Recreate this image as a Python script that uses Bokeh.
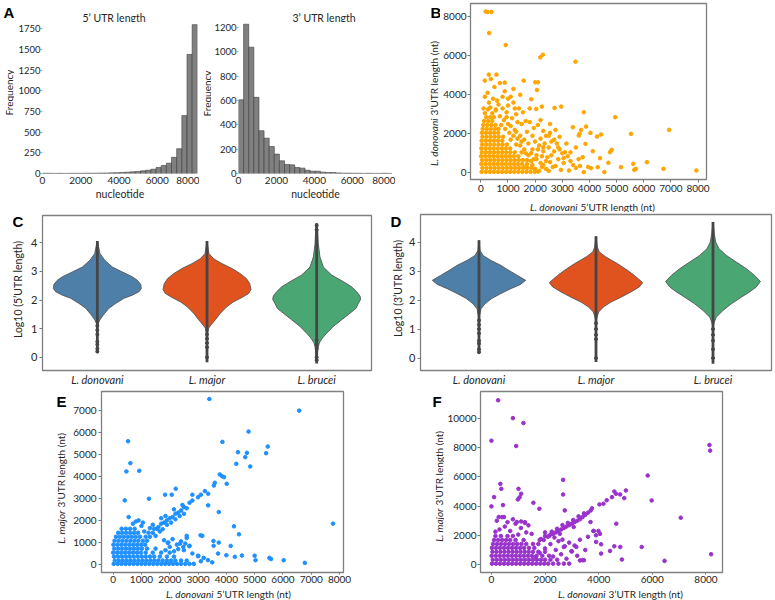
import math
from bokeh.plotting import figure
from bokeh.layouts import column, row
from bokeh.models import Label
from bokeh.embed import file_html
from bokeh.resources import INLINE

FONT = "Lato"
LETTER_FONT = "Liberation Sans"
TXT = "#262626"

# ---------------- data: histograms (panel A) ----------------
bin_width = 269.7
utr5_counts = [3, 2, 1, 2, 1, 2, 2, 2, 3, 3, 4, 5, 6, 8, 10, 13, 16, 20, 25, 32,
               40, 52, 73, 97, 125, 195, 300, 700, 1440, 1800]
utr3_counts = [605, 1225, 1036, 625, 351, 290, 222, 159, 104, 74, 71, 49, 44, 27, 19,
               19, 11, 8, 8, 5, 3, 3, 2, 2, 1, 2, 1, 1, 2, 1]
hist_x_ticks = [0, 2000, 4000, 6000, 8000]
utr5_y_ticks = [0, 250, 500, 750, 1000, 1250, 1500, 1750]
utr3_y_ticks = [0, 200, 400, 600, 800, 1000, 1200]

# ---------------- data: scatter B (5'UTR vs 3'UTR, L. donovani) ----------------
b_core = [(30,50),(180,50),(330,50),(480,50),(630,50),(780,50),(930,50),(1080,50),(1230,50),(1380,50),(1530,50),(1680,50),(1830,50),(1980,50),(2100,60),
          (60,250),(210,250),(360,250),(510,250),(660,250),(810,250),(960,250),(1110,250),(1260,250),(1410,250),(1560,250),(1710,250),(1860,250),
          (20,450),(170,450),(320,450),(470,450),(620,450),(770,450),(920,450),(1070,450),(1220,450),(1370,450),(1520,450),(1700,450),
          (50,650),(200,650),(350,650),(500,650),(650,650),(800,650),(950,650),(1100,650),(1250,650),(1400,650),(1550,650),
          (10,850),(160,850),(310,850),(460,850),(610,850),(760,850),(910,850),(1060,850),(1210,850),(1380,850),
          (40,1050),(190,1050),(340,1050),(490,1050),(640,1050),(790,1050),(940,1050),(1090,1050),(1250,1050),
          (20,1250),(170,1250),(320,1250),(470,1250),(620,1250),(770,1250),(920,1250),(1080,1250),
          (50,1450),(200,1450),(350,1450),(500,1450),(650,1450),(800,1450),(960,1450),
          (30,1650),(180,1650),(330,1650),(480,1650),(630,1650),(790,1650),
          (60,1850),(210,1850),(360,1850),(510,1850),(660,1850),(820,1850),
          (40,2050),(190,2050),(340,2050),(490,2050),(640,2050),
          (70,2250),(220,2250),(370,2250),(520,2250),(650,2250),
          (90,2450),(240,2450),(390,2450),(540,2450),
          (120,2650),(270,2650),(420,2650),
          (200,2850),(350,2850),(480,2850),(150,3050),(420,3050),(260,3250),(550,3250)]
b_mid = [(1100,3900),(1200,3600),(1400,3300),(1000,3450),(1550,3100),(1650,2650),(1800,2600),(1950,2300),(2100,2450),(2200,2700),
         (2300,2150),(2400,1900),(2550,2050),(2700,1700),(2800,1500),(2900,1200),(3000,1000),(3100,1050),(3200,850),(3300,600),
         (3400,400),(3500,250),(3050,500),(2850,700),(2600,900),(2500,1300),(2350,1500),(2200,1750),(2650,300),(2950,150),
         (3250,120),(3600,700),(3650,350),(3950,300),(3750,800),(1800,3300),(1300,3000),(1500,2500),(1700,2100),(1900,1900),
         (2000,1600),(2150,1400),(2300,1100),(2450,800),(2550,550),(2750,350),(2400,200),(2200,500),(2050,900),(1900,1200),
         (1750,1500),(3300,1050),(3500,1300),(3150,1500),(2900,1850),(2750,2200),(2550,2500),(1450,4000),(1200,4300),(700,4600),
         (500,4400),(450,3800),(650,3500),(800,3900),(300,3600),(250,4100),(150,3900),(100,3300),(550,3200),(950,3100),
         (1150,2800),(1350,2600),(1000,2500),(1250,2200),(1450,1900),(1600,1700),(1750,900),(1650,300),(1850,600),(2000,200),
         (2150,100),(2300,400),(2500,100),(1600,1200),(1950,700),(2250,850),(1100,1700),(1300,1450),(1500,1050),(1700,650),
         (750,2450),(900,2250),(1050,2050),(1200,1900),(1350,1750),(850,2700),(700,2900),(950,2850),(1100,2400),(1300,2100),
         (1450,1400),(1650,1000),(1850,1000),(2050,700),(2250,300),(2400,600),(1900,400),(2100,1200),(2300,1300),(1500,1600),
         (800,3300),(600,3700),(350,3350),(1000,3800),(1250,3300),(2600,1600),(2700,1100),(2500,1900),(2850,1300),(3050,750)]
b_out = [(180,8270),(250,8240),(390,8250),(306,7165),(917,6551),(2189,5920),(2287,6056),(3486,5698),
         (147,4725),(294,5033),(575,5033),(367,4810),(880,4623),(1578,4725),(2006,4640),(2104,4640),(2067,4248),(880,4180),
         (1859,3770),(3791,3105),(2960,3395),(2715,3327),(2250,3395),(2042,3275),(4950,2849),(6934,2200),(3388,2337),(3877,2371),
         (3693,2200),(3632,1996),(4036,2047),(4280,1860),(4427,1962),(5528,1996),(3608,1911),(3853,1484),(4122,1109),(4819,1177),
         (4758,1058),(4391,751),(4697,512),(5161,290),(5614,461),(5712,205),(5650,154),(6115,546),(6727,205),(7937,119),
         (4550,34),(3791,34),(4060,239),(4305,290)]

# ---------------- data: violins (panels C, D) ----------------
species = ["L. donovani", "L. major", "L. brucei"]
violin_colors = ["#4d7fa8", "#e0531f", "#4aa672"]
# profile: log10 value, half-width (category units)
c_don_v = [4.06,3.85,3.62,3.39,3.15,2.98,2.81,2.69,2.55,2.40,2.29,2.17,2.06,1.88,1.71,1.48,1.31,1.19,1.10]
c_don_w = [0,.012,.024,.067,.137,.228,.319,.365,.395,.401,.380,.319,.243,.167,.106,.055,.024,.009,0]
c_maj_v = [4.06,3.62,3.44,3.27,3.10,2.92,2.75,2.58,2.37,2.23,2.09,1.94,1.77,1.54,1.31,1.13,1.02,0.90,0.80]
c_maj_w = [0,.018,.061,.137,.228,.304,.359,.389,.401,.380,.319,.243,.182,.122,.076,.036,.015,.009,0]
c_bru_v = [4.68,4.43,3.96,3.50,3.15,2.87,2.64,2.46,2.29,2.14,2.02,1.88,1.71,1.54,1.31,1.08,0.84,0.67,0.50,0.32,0.03,-0.15]
c_bru_w = [0,.009,.015,.030,.061,.137,.243,.319,.365,.395,.401,.380,.359,.304,.228,.152,.091,.052,.024,.012,.006,0]
c_min = [0.15, -0.17, -0.22]
c_max = [4.06, 4.06, 4.68]
c_dots = [[1.1,0.95,0.8,0.55,0.45,0.3,0.2], [0.8,0.65,0.5,0.35,0.0], [0.6,0.45,0.3,0.0,-0.1,4.45,4.6]]

d_don_v = [4.06,3.71,3.54,3.37,3.20,3.02,2.85,2.68,2.54,2.39,2.22,2.05,1.87,1.70,1.53,1.40]
d_don_w = [0,.009,.034,.100,.185,.256,.328,.399,.356,.271,.185,.108,.051,.017,.009,0]
d_maj_v = [4.20,3.83,3.66,3.48,3.25,3.02,2.85,2.68,2.60,2.45,2.28,2.10,1.93,1.76,1.59,1.41,1.25]
d_maj_w = [0,.011,.028,.085,.185,.271,.328,.376,.399,.370,.299,.214,.128,.063,.023,.009,0]
d_bru_v = [4.69,4.29,4.00,3.77,3.54,3.31,3.08,2.85,2.64,2.45,2.28,2.10,1.87,1.64,1.41,1.24,1.05]
d_bru_w = [0,.011,.023,.051,.114,.199,.285,.356,.405,.370,.313,.242,.157,.085,.028,.011,0]
d_min = [0.17, -0.14, -0.2]
d_max = [4.06, 4.20, 4.69]
d_dots = [[1.3,1.15,1.0,0.85,0.6,0.5,0.3,0.2], [1.2,1.0,0.8,0.65,0.0], [1.0,0.8,0.6,0.3,0.0]]

# ---------------- data: scatter E (L. donovani 5'UTR vs L. major 3'UTR) ----------------
e_core = [(20,30),(160,30),(300,30),(440,30),(580,30),(720,30),(860,30),(1000,30),(1140,30),(1280,30),(1420,30),(1560,30),(1700,30),(1840,30),(1980,30),(2120,30),(2260,30),(2400,30),(2550,30),(2700,30),(2850,30),
          (60,180),(200,180),(340,180),(480,180),(620,180),(760,180),(900,180),(1040,180),(1180,180),(1320,180),(1460,180),(1600,180),(1750,180),(1900,180),(2050,180),(2200,180),(2400,180),(2600,180),
          (30,360),(170,360),(310,360),(450,360),(590,360),(730,360),(870,360),(1010,360),(1150,360),(1300,360),(1450,360),(1650,360),(1900,360),(2150,360),
          (0,540),(140,540),(280,540),(420,540),(560,540),(700,540),(840,540),(980,540),(1150,540),(1400,540),(1700,540),(2000,540),
          (40,720),(180,720),(320,720),(460,720),(600,720),(740,720),(880,720),(1020,720),(1200,720),(1500,720),
          (10,900),(150,900),(290,900),(430,900),(570,900),(710,900),(850,900),(990,900),(1130,900),
          (50,1080),(190,1080),(330,1080),(470,1080),(610,1080),(750,1080),(890,1080),(1050,1080),(1200,1080),
          (100,1260),(240,1260),(380,1260),(520,1260),(660,1260),(800,1260),(950,1260),(1150,1260),(1300,1260),
          (180,1440),(320,1440),(460,1440),(600,1440),(740,1440),(880,1440),(1250,1440),(1400,1440),
          (300,1620),(450,1620),(600,1620),(760,1620),(1450,1620),(1550,1620)]
e_band = [(1600,1700),(1700,1850),(1800,1900),(1900,2000),(2000,2100),(2100,2150),(2200,2300),(2300,2350),(2400,2450),(2500,2600),
          (1500,1300),(1650,1500),(1750,1600),(1900,1800),(2050,1900),(2200,2050),(2350,2200),(2500,2300),(2600,2550),(2700,2800),
          (2800,2900),(2450,2700),(2150,2500),(1850,2200),(1700,2100),(1400,1800),(1300,1650),
          (1800,1100),(1950,1000),(2100,1150),(2250,900),(2400,1050),(2550,950),(2700,850),(2600,1200),(2000,800),(2300,700),
          (1850,650),(2150,600),(2500,650),(2800,500),(3000,400),(3200,300),(3100,150),(3350,200),(3500,100),
          (550,2150),(900,2000),(1050,1900),(700,1850),(1100,1500),(1000,1750),(800,1950)]
e_out = [(3400,7500),(6575,6973),(4785,6024),(527,5587),(3861,5557),(4411,5090),(4727,5060),(4668,4865),(5464,5346),(5405,5045),
         (609,4593),(468,4217),(924,4247),(4352,4563),(4844,4443),(3767,4081),(3919,3961),(3850,4000),(4013,3660),(3592,3705),
         (3560,3580),(3732,2379),(2211,3434),(2800,3163),(410,2907),(1264,2982),(3358,3208),(3241,3328),(1837,3163),(2071,3163),
         (3100,3163),(3000,3050),(3358,2681),(7769,1852),(4270,1732),(4446,1370),(3733,994),(3545,1069),(3550,850),(4153,843),
         (4551,407),(5000,400),(5522,301),(5580,250),(6025,196),(6774,75),(5031,196),(4001,422),(4300,350),(3709,497),
         (3007,377),(3089,1325),(3150,1300),(2691,828),(2363,949),(2480,800),(1930,979),(2600,1300)]

# ---------------- data: scatter F (L. donovani 3'UTR vs L. major 3'UTR) ----------------
f_core = [(20,60),(170,60),(320,60),(470,60),(620,60),(770,60),(920,60),(1070,60),(1220,60),(1370,60),(1520,60),(1670,60),(1820,60),(1970,60),(2120,60),(2300,60),(2500,60),(2700,60),(2900,60),
          (50,330),(200,330),(350,330),(500,330),(650,330),(800,330),(950,330),(1100,330),(1250,330),(1400,330),(1550,330),(1700,330),(1850,330),(2000,330),(2200,330),(2450,330),
          (10,600),(160,600),(310,600),(460,600),(610,600),(760,600),(910,600),(1060,600),(1210,600),(1360,600),(1510,600),(1680,600),(1900,600),(2150,600),
          (40,870),(190,870),(340,870),(490,870),(640,870),(790,870),(940,870),(1090,870),(1240,870),(1390,870),(1550,870),(1750,870),(2000,870),
          (20,1140),(170,1140),(320,1140),(470,1140),(620,1140),(770,1140),(920,1140),(1070,1140),(1220,1140),(1400,1140),(1600,1140),
          (60,1410),(210,1410),(360,1410),(510,1410),(660,1410),(810,1410),(960,1410),(1120,1410),(1300,1410),(1550,1410),(1750,1410),
          (100,1680),(250,1680),(400,1680),(550,1680),(700,1680),(900,1680),(1200,1680),(1800,1680),(1950,1680),
          (150,1950),(350,1950),(600,1950),(800,1950),(2000,1950),(2150,1950)]
f_band = [(2100,1900),(2200,2050),(2300,2100),(2400,2200),(2500,2300),(2600,2400),(2700,2500),(2800,2600),(2900,2700),(3000,2800),
          (3100,2900),(3200,3000),(3300,3100),(3400,3250),(3500,3400),(3600,3550),(3700,3700),(3750,3850),(2250,2250),(2450,2450),
          (2650,2700),(2850,2850),(3050,3050),(3250,3300),(3450,3500),(2000,2200),(1850,1750),(2350,1850),(2550,2100),
          (1650,500),(1800,800),(2000,1100),(2200,1400),(2400,1000),(2600,700),(2800,400),(3000,900),(3200,600),(3400,300),
          (2300,550),(2700,1200),(2900,1500),(3100,1300),(3300,1700),(2500,1600),(3600,1900),(3500,1000),(3800,2300),(3900,2000),
          (300,2400),(500,2600),(700,2300),(900,2800),(1100,2500),(200,3000),(400,3250),(600,2900),(1300,2200),(1000,2050),
          (150,2250),(800,3100),(1250,2900),(1500,2100)]
f_out = [(250,11250),(801,10028),(1195,9687),(0,8482),(924,8118),(8131,8186),(8156,7800),(5827,6094),(333,5526),(370,5185),
         (2673,5799),(1010,5185),(1109,4844),(985,4457),(1050,4600),(99,4616),(0,3980),(431,4070),(1565,4230),(1786,3820),
         (5975,4389),(2673,4798),(4583,5003),(4645,4844),(4800,4800),(4497,4616),(5014,5071),(4953,4548),(4300,4400),(4029,4116),
         (4177,4162),(7059,3206),(2735,3707),(271,3252),(468,3252),(949,2911),(1110,2950),(1250,2850),(1380,2683),(3068,2570),
         (3696,2911),(3819,2297),(3992,2297),(4050,2100),(4657,2797),(3905,1546),(4090,1387),(4583,1251),(4805,1205),(4090,750),
         (4423,932),(5605,1205),(8193,705),(6456,250),(4866,341),(3450,296),(3300,280),(2981,910),(3166,1205),(2649,1705),(2735,1250)]

b_ticks_x = [0, 1000, 2000, 3000, 4000, 5000, 6000, 7000, 8000]
b_ticks_y = [0, 2000, 4000, 6000, 8000]
e_ticks_x = [0, 1000, 2000, 3000, 4000, 5000, 6000, 7000, 8000]
e_ticks_y = [0, 1000, 2000, 3000, 4000, 5000, 6000, 7000]
f_ticks_x = [0, 2000, 4000, 6000, 8000]
f_ticks_y = [0, 2000, 4000, 6000, 8000, 10000]
violin_ticks_y = [0, 1, 2, 3, 4]


def make_fig(w, h, xr, yr, bl, br, bt, bb):
    p = figure(width=w, height=h, x_range=xr, y_range=yr, output_backend="svg",
               toolbar_location=None, min_border_left=bl, min_border_right=br,
               min_border_top=bt, min_border_bottom=bb, frame_align=False)
    p.xgrid.visible = False
    p.ygrid.visible = False
    p.background_fill_color = "white"
    p.border_fill_color = "white"
    for ax in (p.xaxis[0], p.yaxis[0]):
        ax.axis_line_color = None
        ax.minor_tick_line_color = None
        ax.major_tick_in = 0
        ax.major_tick_out = 3
        ax.major_tick_line_color = "#777777"
        ax.major_label_text_font = FONT
        ax.major_label_text_font_size = "10px"
        ax.major_label_text_color = TXT
        ax.axis_label_text_font = FONT
        ax.axis_label_text_font_size = "10px"
        ax.axis_label_text_font_style = "normal"
        ax.axis_label_text_color = TXT
        ax.major_label_standoff = 2
    return p


def framed(p):
    p.outline_line_color = "#808080"
    p.outline_line_width = 1.3


class TextCanvas:
    """A small figure whose frame is a plain pixel canvas, holding texts that sit outside plot frames."""
    def __init__(self, page_x, page_y, w, h):
        self.x0, self.y0, self.h = page_x, page_y, h
        t = figure(width=w, height=h, x_range=(0, w), y_range=(0, h), output_backend="svg",
                   toolbar_location=None, x_axis_location=None, y_axis_location=None,
                   min_border_left=0, min_border_right=0, min_border_top=0, min_border_bottom=0,
                   frame_align=False)
        t.outline_line_color = None
        t.background_fill_color = "white"
        t.border_fill_color = "white"
        for g in t.grid:
            g.visible = False
        self.p = t

    def text(self, px, py, txt, **kw):
        self.p.add_layout(Label(x=px - self.x0, y=self.y0 + self.h - py, text=txt, **kw))

    def letter(self, txt, px, py_center):
        self.text(px, py_center, txt, text_font=LETTER_FONT, text_font_style="bold", text_font_size="15px",
                  text_color="black", text_baseline="middle", text_align="left")

    def plain(self, px, py, txt, angle=0.0, align="left", size="10.5px"):
        self.text(px, py, txt, angle=angle, text_align=align, text_baseline="middle",
                  text_font=FONT, text_font_size=size, text_color=TXT)

    def mixed(self, px, py, ital, rest, vertical):
        common = dict(text_font=FONT, text_font_size="10px", text_color=TXT, text_baseline="middle")
        if vertical:
            self.text(px, py, ital, angle=math.pi / 2, text_align="right", text_font_style="italic", **common)
            self.text(px, py - 3, rest, angle=math.pi / 2, text_align="left", **common)
        else:
            self.text(px, py, ital, text_align="right", text_font_style="italic", **common)
            self.text(px + 3, py, rest, text_align="left", **common)


def hist_fig(w, counts, xr_end, yr_end, yticks, bl, br):
    p = make_fig(w, 190, (0, xr_end), (0, yr_end), bl, br, 0, 39)
    lefts = [i * bin_width for i in range(len(counts))]
    rights = [(i + 1) * bin_width for i in range(len(counts))]
    p.quad(left=lefts, right=rights, bottom=0, top=counts, fill_color="#808080",
           line_color="#3c3c3c", line_width=0.6)
    p.outline_line_color = None
    p.xaxis.ticker = hist_x_ticks
    p.yaxis.ticker = yticks
    p.xaxis.major_tick_out = 0
    p.xaxis.major_label_standoff = 3
    p.yaxis.major_tick_out = 2
    p.yaxis.major_label_standoff = 0
    p.yaxis.major_tick_line_color = "#aaaaaa"
    p.yaxis.major_label_text_font_size = "9.5px"
    p.xaxis.major_label_text_font_size = "10px"
    p.xaxis.axis_label = "nucleotide"
    p.xaxis.axis_label_standoff = 1
    p.xaxis.axis_label_text_font_size = "10.5px"
    return p


# ---- Row 1: A (two histograms) and B ----
TA1 = TextCanvas(0, 0, 199, 22)
TA1.letter("A", 3, 12)
TA1.plain(82, 17, "5\u2019 UTR length")
TF1 = TextCanvas(0, 22, 14, 190)
TF1.plain(8, 92, "Frequency", angle=math.pi / 2, align="center", size="10px")
A1 = hist_fig(185, utr5_counts, 8100, 1826, utr5_y_ticks, 28, 2)

TA2 = TextCanvas(199, 0, 196, 22)
TA2.plain(292, 17, "3\u2019 UTR length")
TF2 = TextCanvas(199, 22, 12, 190)
TF2.plain(206, 93, "Frequency", angle=math.pi / 2, align="center", size="10px")
A2 = hist_fig(184, utr3_counts, 8120, 1239, utr3_y_ticks, 25, 3)

TB = TextCanvas(395, 0, 45, 212)
TB.letter("B", 430, 11.5)
TB.mixed(433, 118, "L. donovani", "3\u2019UTR length (nt)", True)
B = make_fig(335, 198, (-380, 8310), (-343, 8680), 29, 69, 3, 19)
framed(B)
bpts = b_core + b_mid + b_out
B.scatter([q[0] for q in bpts], [q[1] for q in bpts], size=3.6, color="#ffa500")
B.xaxis.ticker = b_ticks_x
B.yaxis.ticker = b_ticks_y
B.yaxis.major_label_standoff = 1
TBx = TextCanvas(440, 198, 335, 14)
TBx.mixed(577, 206, "L. donovani", "5\u2019UTR length (nt)", False)


def violin_fig(w, bl, br, bt, bb, yr, profiles, mins, maxs, dots):
    p = make_fig(w, 176, (0, 3), yr, bl, br, bt, bb)
    framed(p)
    for i, (vs, ws) in enumerate(profiles):
        c = i + 0.5
        xs = [c - wv for wv in ws] + [c + wv for wv in reversed(ws)]
        ys = list(vs) + list(reversed(vs))
        p.patch(xs, ys, fill_color=violin_colors[i], line_color="#555555", line_width=0.9)
    centers = [0.5, 1.5, 2.5]
    p.segment(x0=centers, y0=mins, x1=centers, y1=maxs, line_width=2.8, line_color="#454545")
    dx, dy = [], []
    for i, dl in enumerate(dots):
        for d in dl:
            dx.append(centers[i])
            dy.append(d)
    p.scatter(dx, dy, size=3, color="#454545")
    p.xaxis.ticker = centers
    p.xaxis.major_label_overrides = {0.5: species[0], 1.5: species[1], 2.5: species[2]}
    p.xaxis.major_tick_out = 0
    p.xaxis.major_label_text_font_style = "italic"
    p.xaxis.major_label_text_font_size = "11px"
    p.xaxis.major_label_standoff = 2
    p.yaxis.ticker = violin_ticks_y
    p.yaxis.major_label_text_font_size = "11px"
    return p


# ---- Row 2: C and D ----
TC = TextCanvas(0, 212, 26, 176)
TC.letter("C", 12, 221)
TC.plain(17, 289, "Log10 (5\u2019UTR length)", angle=math.pi / 2, align="center")
C = violin_fig(364, 16, 19, 3, 17, (-0.46, 4.95),
               [(c_don_v, c_don_w), (c_maj_v, c_maj_w), (c_bru_v, c_bru_w)], c_min, c_max, c_dots)

TD = TextCanvas(390, 212, 15, 176)
TD.letter("D", 390, 221)
TD.plain(397, 288, "Log10 (3\u2019UTR length)", angle=math.pi / 2, align="center")
D = violin_fig(370, 15, 4, 2, 18, (-0.43, 4.95),
               [(d_don_v, d_don_w), (d_maj_v, d_maj_w), (d_bru_v, d_bru_w)], d_min, d_max, d_dots)

# ---- Row 3: E and F ----
TE = TextCanvas(0, 388, 70, 212)
TE.letter("E", 56, 400.5)
TE.mixed(60, 510, "L. major", "3\u2019UTR length (nt)", True)
E = make_fig(320, 200, (-411, 8140), (-361, 7840), 29, 47, 3, 16)
framed(E)
epts = e_core + e_band + e_out
E.scatter([q[0] for q in epts], [q[1] for q in epts], size=3.6, color="#1e90ff")
E.xaxis.ticker = e_ticks_x
E.yaxis.ticker = e_ticks_y
E.xaxis.major_tick_out = 2
E.xaxis.major_label_standoff = 1
TEx = TextCanvas(70, 588, 320, 12)
TEx.mixed(213, 593, "L. donovani", "5\u2019UTR length (nt)", False)

TF = TextCanvas(390, 388, 54, 212)
TF.letter("F", 432, 400.5)
TF.mixed(438, 508, "L. major", "3\u2019UTR length (nt)", True)
F = make_fig(331, 200, (-407, 8617), (-546, 11850), 34, 53, 3, 16)
framed(F)
fpts = f_core + f_band + f_out
F.scatter([q[0] for q in fpts], [q[1] for q in fpts], size=3.6, color="#9932cc")
F.xaxis.ticker = f_ticks_x
F.yaxis.ticker = f_ticks_y
F.xaxis.major_tick_out = 2
F.xaxis.major_label_standoff = 1
F.yaxis.major_label_standoff = 1
TFx = TextCanvas(444, 588, 331, 12)
TFx.mixed(605, 593, "L. donovani", "3\u2019UTR length (nt)", False)

layout = column(
    row(column(TA1.p, row(TF1.p, A1)), column(TA2.p, row(TF2.p, A2)), TB.p, column(B, TBx.p)),
    row(TC.p, C, TD.p, D),
    row(TE.p, column(E, TEx.p), TF.p, column(F, TFx.p)),
)
open("out.html", "w").write(file_html(layout, INLINE))
